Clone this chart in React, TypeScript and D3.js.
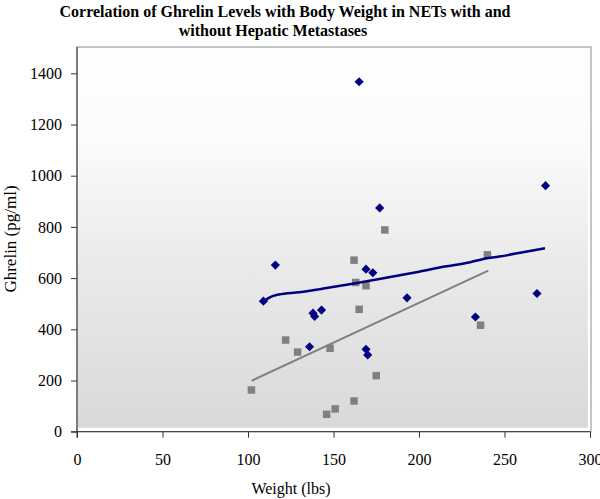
import { useEffect, useRef } from "react";
import * as d3 from "d3";

// weight (lbs), ghrelin (pg/ml)
const withMetsWeight = [165, 274, 177, 116, 109, 169, 173, 193, 233, 269, 143, 138, 139, 136, 169, 170];
const withMetsGhrelin = [1367, 961, 874, 651, 510, 635, 621, 523, 448, 540, 475, 463, 450, 332, 322, 300];

const noMetsWeight = [102, 122, 129, 148, 162, 163, 169, 165, 180, 240, 236, 175, 162, 151, 146];
const noMetsGhrelin = [163, 358, 311, 326, 670, 583, 570, 478, 788, 691, 416, 219, 120, 89, 68];

// trend lines
const withMetsTrend: [number, number][] = [
  [109.4, 510], [113, 526], [118, 536], [130, 545], [145, 560], [163, 580],
  [180, 600], [200, 625], [215, 645], [230, 662], [237, 674], [247, 684],
  [260, 700], [273.7, 717],
];
const noMetsTrend: [number, number][] = [[102.2, 199], [240.5, 629]];

const xTicks = [0, 50, 100, 150, 200, 250, 300];
const yTicks = [0, 200, 400, 600, 800, 1000, 1200, 1400];

export default function App() {
  const svgRef = useRef<SVGSVGElement>(null);

  useEffect(() => {
    if (!svgRef.current) return;
    const svg = d3.select(svgRef.current);
    svg.selectAll("*").remove();

    const font = "'Liberation Serif', 'Times New Roman', serif";
    const left = 77, right = 590, top = 47, bottom = 431.7;

    const x = d3.scaleLinear().domain([0, 300]).range([left, right]);
    const y = d3.scaleLinear().domain([0, 1400]).range([bottom, 73.3]);

    const grad = svg.append("defs").append("linearGradient")
      .attr("id", "bg").attr("x1", 0).attr("x2", 0).attr("y1", 0).attr("y2", 1);
    grad.append("stop").attr("offset", "0%").attr("stop-color", "#ffffff");
    grad.append("stop").attr("offset", "25%").attr("stop-color", "#fbfbfb");
    grad.append("stop").attr("offset", "55%").attr("stop-color", "#ebebeb");
    grad.append("stop").attr("offset", "100%").attr("stop-color", "#d9d9d9");

    // plot area
    svg.append("rect").attr("x", left).attr("y", top)
      .attr("width", right - left + 1).attr("height", bottom - top)
      .attr("fill", "#fff").attr("stroke", "#8c8c8c").attr("stroke-width", 1);
    svg.append("rect").attr("x", left + 1).attr("y", top + 1)
      .attr("width", right - left - 3).attr("height", bottom - top - 5)
      .attr("fill", "url(#bg)");

    // title
    const title = svg.append("text").attr("text-anchor", "middle")
      .attr("font-family", font).attr("font-weight", "bold").attr("font-size", 16).attr("fill", "#000");
    title.append("tspan").attr("x", 285).attr("y", 17)
      .text("Correlation of Ghrelin Levels with Body Weight in NETs with and");
    title.append("tspan").attr("x", 273).attr("y", 36).text("without Hepatic Metastases");

    const fmt = d3.format("d");

    // axes
    svg.append("g").attr("transform", `translate(0,${bottom})`)
      .call(d3.axisBottom(x).tickValues(xTicks).tickFormat(d => fmt(d as number)).tickSize(6).tickPadding(16))
      .call(ax => ax.select(".domain").attr("stroke", "#333").attr("d", `M${left - 6},0H${right}`))
      .call(ax => ax.selectAll(".tick line").attr("stroke", "#333"))
      .call(ax => ax.selectAll(".tick text").attr("fill", "#000")
        .attr("font-size", 16).attr("font-family", font));

    svg.append("g").attr("transform", `translate(${left},0)`)
      .call(d3.axisLeft(y).tickValues(yTicks).tickFormat(d => fmt(d as number)).tickSize(6).tickPadding(9))
      .call(ax => ax.select(".domain").attr("stroke", "#333").attr("d", `M0,${top}V${bottom + 6}`))
      .call(ax => ax.selectAll(".tick line").attr("stroke", "#333"))
      .call(ax => ax.selectAll(".tick text").attr("fill", "#000")
        .attr("font-size", 16).attr("font-family", font));

    svg.append("text").attr("x", 291).attr("y", 494).attr("text-anchor", "middle")
      .attr("font-family", font).attr("font-size", 16).text("Weight (lbs)");
    svg.append("text").attr("transform", "translate(16,239) rotate(-90)").attr("text-anchor", "middle")
      .attr("font-family", font).attr("font-size", 17).text("Ghrelin (pg/ml)");

    // markers
    const square = d3.symbol(d3.symbolSquare, 56)();
    const diamond = d3.symbol(d3.symbolSquare, 42)();

    svg.append("g").selectAll("path").data(d3.range(noMetsWeight.length)).enter().append("path")
      .attr("d", square)
      .attr("transform", i => `translate(${x(noMetsWeight[i])},${y(noMetsGhrelin[i])})`)
      .attr("fill", "#808080");

    svg.append("g").selectAll("path").data(d3.range(withMetsWeight.length)).enter().append("path")
      .attr("d", diamond)
      .attr("transform", i => `translate(${x(withMetsWeight[i])},${y(withMetsGhrelin[i])}) rotate(45)`)
      .attr("fill", "#000080");

    // trend lines
    const line = d3.line<[number, number]>().x(d => x(d[0])).y(d => y(d[1])).curve(d3.curveMonotoneX);
    svg.append("path").datum(noMetsTrend).attr("d", line)
      .attr("fill", "none").attr("stroke", "#808080").attr("stroke-width", 2);
    svg.append("path").datum(withMetsTrend).attr("d", line)
      .attr("fill", "none").attr("stroke", "#000080").attr("stroke-width", 2.5);
  }, []);

  return (
    <svg ref={svgRef} width={600} height={499}
      style={{ position: "absolute", left: 0, top: 0, background: "#fff" }} />
  );
}
